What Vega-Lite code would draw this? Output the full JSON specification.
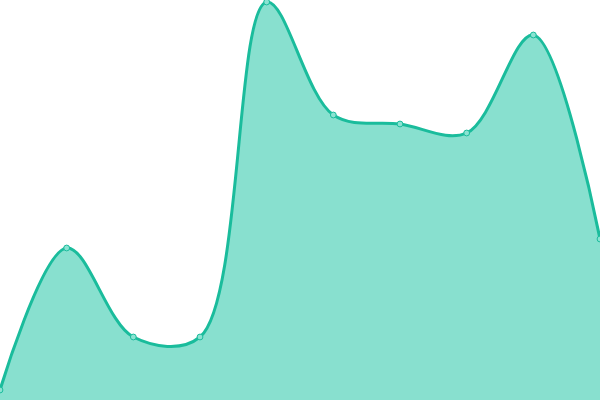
{
  "$schema": "https://vega.github.io/schema/vega-lite/v6.json",
  "width": 600,
  "height": 400,
  "autosize": {"type": "none"},
  "padding": 0,
  "data": {
    "values": [
      {"i": 0, "v": 10},
      {"i": 1, "v": 152},
      {"i": 2, "v": 63},
      {"i": 3, "v": 63},
      {"i": 4, "v": 398},
      {"i": 5, "v": 285},
      {"i": 6, "v": 276},
      {"i": 7, "v": 267},
      {"i": 8, "v": 365},
      {"i": 9, "v": 161}
    ]
  },
  "encoding": {
    "x": {"field": "i", "type": "quantitative", "scale": {"domain": [0, 9], "nice": false, "zero": false}, "axis": null},
    "y": {"field": "v", "type": "quantitative", "scale": {"domain": [0, 400], "nice": false}, "axis": null}
  },
  "layer": [
    {"mark": {"type": "area", "interpolate": "catmull-rom", "color": "#88e0cf", "clip": true}},
    {"mark": {"type": "line", "interpolate": "catmull-rom", "color": "#1abc9c", "strokeWidth": 3, "clip": true}},
    {"mark": {"type": "point", "filled": true, "size": 34, "fill": "#8ae3d2", "stroke": "#1abc9c", "strokeWidth": 1, "opacity": 1}}
  ],
  "config": {"view": {"stroke": null}}
}
